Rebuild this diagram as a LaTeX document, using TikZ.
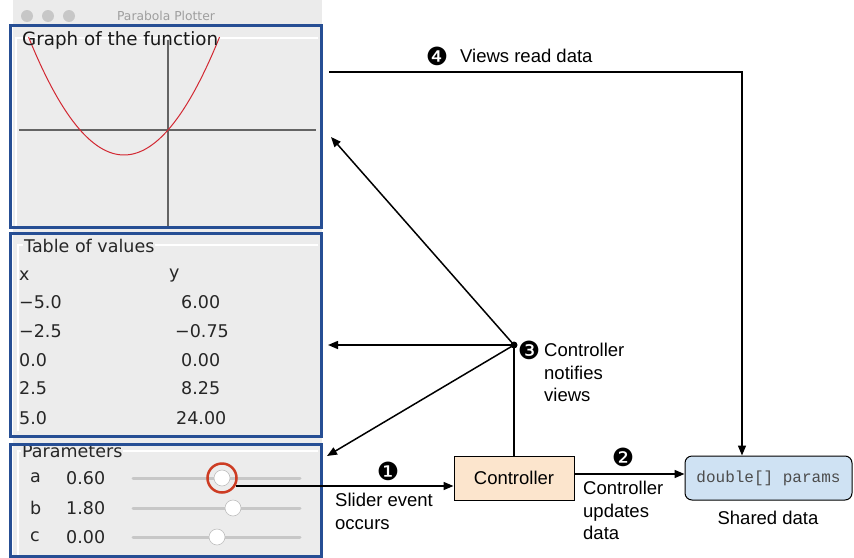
\documentclass[tikz,border=0pt]{standalone}
\usepackage{fontspec}
\setmainfont{Liberation Sans}
\setmonofont{Liberation Mono}
\newfontfamily\uifont{DejaVu Sans}
\newfontfamily\dingfont{DejaVu Sans}
\usetikzlibrary{arrows.meta}
\definecolor{frameblue}{RGB}{38,78,148}
\definecolor{panelbg}{RGB}{236,236,236}
\definecolor{peach}{RGB}{252,229,205}
\definecolor{lightblue}{RGB}{207,226,243}
\definecolor{curvered}{RGB}{210,40,50}
\definecolor{ringred}{RGB}{205,60,35}
\definecolor{axisgray}{RGB}{100,100,100}
\tikzset{
  arr/.style={draw=black, line width=1.5pt, -{Triangle[length=10pt,width=8pt]}},
  conn/.style={draw=black, line width=1.5pt},
  lbl/.style={font=\fontsize{18.5}{22.5}\selectfont, align=left, inner sep=0pt, anchor=north west},
  num/.style={font=\dingfont\fontsize{25}{25}\selectfont, inner sep=0pt},
  ui/.style={font=\uifont\fontsize{17.5}{17.5}\selectfont, text=black!85, inner sep=0pt, anchor=west},
  frame/.style={draw=frameblue, line width=3pt},
  track/.style={draw=black!22, line width=3pt, line cap=round},
  knob/.style={circle, fill=white, draw=black!25, line width=0.6pt, minimum size=16pt, inner sep=0pt},
  hilite/.style={draw=white, line width=1.5pt},
}
\begin{document}
\begin{tikzpicture}[x=1pt,y=-1pt]
\useasboundingbox (0,0) rectangle (854,557);
% window
\fill[panelbg] (13,0) rectangle (322,557);
\fill[black!8] (13,0) rectangle (322,24);
\foreach \cx in {27,48,69} \fill[black!22] (\cx,16) circle (6);
\node[font=\uifont\fontsize{12.3}{12.3}\selectfont, text=black!38, inner sep=0pt] (title) at (166,16) {Parabola Plotter};
% graph panel
\draw[hilite] (16,226) -- (16,38) -- (318,38);
\draw[axisgray, line width=1.5pt] (168,40) -- (168,226);
\draw[axisgray, line width=1.5pt] (19,130) -- (316,130);
\draw[curvered, line width=1pt, domain=-4.76:1.76, samples=80, smooth] plot ({168+29.3*\x},{130-18.5*(0.6*\x*\x+1.8*\x)});
\node[font=\uifont\fontsize{18.3}{18.3}\selectfont, text=black!90, inner sep=0pt, anchor=west] (graphtitle) at (22,40) {Graph of the function};
\draw[frame] (10,25) rectangle (321,227);
% table panel
\draw[hilite] (18,431) -- (18,245) -- (318,245);
\node[ui, fill=panelbg, inner sep=1pt] (tabletitle) at (23,246) {Table of values};
\node[ui] (hx) at (19,276) {x};
\node[ui] (hy) at (169,276) {y};
\node[ui] (x1) at (19,302) {−5.0};  \node[ui] (y1) at (181,302) {6.00};
\node[ui] (x2) at (19,331) {−2.5};  \node[ui] (y2) at (175,331) {−0.75};
\node[ui] (x3) at (19,360) {0.0};   \node[ui] (y3) at (181,360) {0.00};
\node[ui] (x4) at (19,388) {2.5};   \node[ui] (y4) at (181,388) {8.25};
\node[ui] (x5) at (19,418) {5.0};   \node[ui] (y5) at (176,418) {24.00};
\draw[frame] (10,233) rectangle (321,436);
% parameters panel
\draw[hilite] (18,557) -- (18,451) -- (318,451);
\node[ui, fill=panelbg, inner sep=1pt] (paramtitle) at (21,451) {Parameters};
\node[ui] (pa) at (30,478) {a};  \node[ui] (va) at (66,478) {0.60};
\node[ui] (pb) at (30,508) {b};  \node[ui] (vb) at (66,508) {1.80};
\node[ui] (pc) at (30,537) {c};  \node[ui] (vc) at (66,537) {0.00};
\draw[track] (133,478) -- (300,478);
\draw[track] (133,508) -- (300,508);
\draw[track] (133,537) -- (300,537);
\node[knob] (knoba) at (222,478) {};
\node[knob] (knobb) at (233,508) {};
\node[knob] (knobc) at (217,537) {};
\draw[frame] (10,444) rectangle (321,556);
\node[circle, draw=ringred, line width=2.5pt, minimum size=29pt, inner sep=0pt] (ring) at (222,478) {};
% diagram
\node[draw=black, line width=1pt, fill=peach, minimum width=120pt, minimum height=44pt, inner sep=0pt,
      font=\fontsize{18.5}{18.5}\selectfont] (ctrl) at (514,478) {Controller};
\node[draw=black, line width=1pt, fill=lightblue, rounded corners=7pt, minimum width=167pt, minimum height=44pt,
      inner sep=0pt, font=\ttfamily\fontsize{16}{16}\selectfont, text=black!70] (shared) at (768.5,478) {double[] params};
\node[font=\fontsize{18.5}{18.5}\selectfont, inner sep=0pt] (sharedlbl) at (768,518) {Shared data};
\fill (514,345) circle (3.5) coordinate (hub);
\coordinate (slidestart) at (236,486);
\coordinate (tograph) at (331,137);
\coordinate (totable) at (328,345);
\coordinate (toparams) at (327,456);
\coordinate (readstart) at (329,72);
\draw[arr] (slidestart) -- (slidestart -| ctrl.west);
\draw[arr] ([yshift=4pt]ctrl.east) -- ([yshift=4pt]shared.west);
\draw[conn] (ctrl.north) -- (hub);
\draw[arr] (hub) -- (tograph);
\draw[arr] (hub) -- (totable);
\draw[arr] (hub) -- (toparams);
\draw[arr] (readstart) -| ([xshift=-26.5pt]shared.north);
% labels
\node[num] (n1) at (388,471) {❶};
\node[lbl] (l1) at (335,493) {Slider event\\occurs};
\node[num] (n2) at (623,457) {❷};
\node[lbl] (l2) at (583,481) {Controller\\updates\\data};
\node[num] (n3) at (529,350) {❸};
\node[lbl] (l3) at (544,343) {Controller\\notifies\\views};
\node[num] (n4) at (437,56) {❹};
\node[font=\fontsize{18.5}{18.5}\selectfont, inner sep=0pt, anchor=west] (l4) at (460,56) {Views read data};
\end{tikzpicture}
\end{document}
